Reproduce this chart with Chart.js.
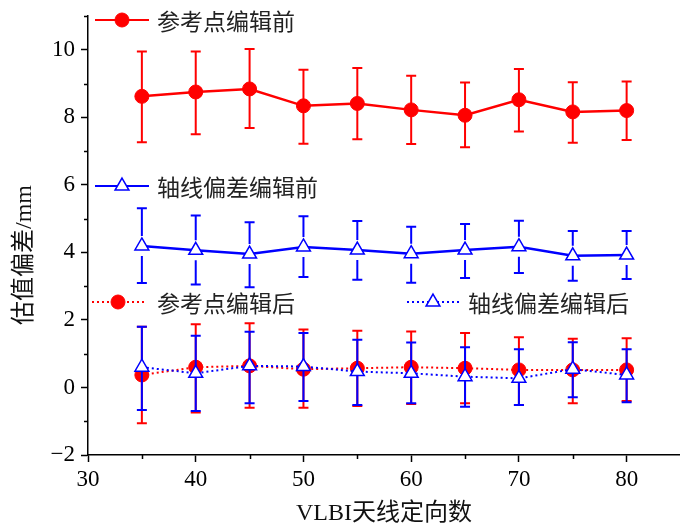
<!DOCTYPE html>
<html>
<head>
<meta charset="utf-8">
<script src="https://cdn.jsdelivr.net/npm/chart.js@4/dist/chart.umd.min.js"></script>
<style>
html,body{margin:0;padding:0;background:#fff;overflow:hidden;}
#wrap{width:680px;height:526px;position:relative;overflow:hidden;}
</style>
</head>
<body>
<div id="wrap"><canvas id="c" width="690" height="526"></canvas></div>
<script>
// ---- data ----
const xValues = [35, 40, 45, 50, 55, 60, 65, 70, 75, 80];

const refBefore     = [8.62, 8.75, 8.84, 8.34, 8.41, 8.22, 8.06, 8.52, 8.16, 8.20];
const refBeforeHigh = [9.95, 9.95, 10.02, 9.41, 9.46, 9.23, 9.03, 9.43, 9.04, 9.06];
const refBeforeLow  = [7.26, 7.50, 7.68, 7.22, 7.35, 7.21, 7.11, 7.58, 7.25, 7.33];

const axisBefore     = [4.19, 4.06, 3.95, 4.16, 4.07, 3.96, 4.07, 4.17, 3.90, 3.92];
const axisBeforeHigh = [5.31, 5.09, 4.89, 5.07, 4.93, 4.76, 4.84, 4.94, 4.63, 4.63];
const axisBeforeLow  = [3.09, 3.05, 2.97, 3.27, 3.19, 3.10, 3.24, 3.39, 3.16, 3.21];

const refAfter     = [0.37, 0.60, 0.64, 0.54, 0.57, 0.60, 0.57, 0.52, 0.52, 0.52];
const refAfterHigh = [1.80, 1.87, 1.90, 1.72, 1.68, 1.66, 1.61, 1.49, 1.44, 1.46];
const refAfterLow  = [-1.06, -0.74, -0.60, -0.60, -0.55, -0.49, -0.47, -0.52, -0.47, -0.40];

const axisAfter     = [0.60, 0.42, 0.64, 0.62, 0.47, 0.42, 0.32, 0.27, 0.54, 0.37];
const axisAfterHigh = [1.80, 1.53, 1.65, 1.61, 1.41, 1.33, 1.19, 1.13, 1.34, 1.13];
const axisAfterLow  = [-0.67, -0.70, -0.47, -0.40, -0.52, -0.47, -0.57, -0.52, -0.29, -0.44];

const seriesNames = ['参考点编辑前', '轴线偏差编辑前', '参考点编辑后', '轴线偏差编辑后'];
const xTickLabels = [30, 40, 50, 60, 70, 80];
const yTickLabels = [-2, 0, 2, 4, 6, 8, 10];
const xTitle = 'VLBI天线定向数';
const yTitle = '估值偏差/mm';

const RED = '#ff0000';
const BLUE = '#0000ff';

function pts(vals) { return xValues.map((x, i) => ({ x: x, y: vals[i] })); }

const datasets = [
  { label: seriesNames[0], data: pts(refBefore), hi: refBeforeHigh, lo: refBeforeLow,
    borderColor: RED, backgroundColor: RED, borderWidth: 2.5, pointStyle: 'circle', pointRadius: 7,
    pointBackgroundColor: RED, pointBorderColor: RED, pointBorderWidth: 1, order: 3, errColor: RED, gap: 0 },
  { label: seriesNames[1], data: pts(axisBefore), hi: axisBeforeHigh, lo: axisBeforeLow,
    borderColor: BLUE, backgroundColor: '#fff', borderWidth: 2.5, pointStyle: 'triangle', pointRadius: 8,
    pointBackgroundColor: '#fff', pointBorderColor: BLUE, pointBorderWidth: 1.5, order: 2, errColor: BLUE, gap: 10 },
  { label: seriesNames[2], data: pts(refAfter), hi: refAfterHigh, lo: refAfterLow,
    borderColor: RED, backgroundColor: RED, borderWidth: 2, borderDash: [2, 3], pointStyle: 'circle', pointRadius: 7,
    pointBackgroundColor: RED, pointBorderColor: RED, pointBorderWidth: 1, order: 1, errColor: RED, gap: 0 },
  { label: seriesNames[3], data: pts(axisAfter), hi: axisAfterHigh, lo: axisAfterLow,
    borderColor: BLUE, backgroundColor: '#fff', borderWidth: 2, borderDash: [2, 3], pointStyle: 'triangle', pointRadius: 8,
    pointBackgroundColor: '#fff', pointBorderColor: BLUE, pointBorderWidth: 1.5, order: 0, errColor: BLUE, gap: 0 }
];

const errorBars = {
  id: 'errorBars',
  beforeDatasetDraw(chart, args) {
    const ds = chart.data.datasets[args.index];
    const ys = chart.scales.y, xs = chart.scales.x;
    const ctx = chart.ctx;
    ctx.save();
    ctx.strokeStyle = ds.errColor;
    ctx.lineWidth = 2;
    ctx.setLineDash([]);
    ds.data.forEach((p, i) => {
      const px = xs.getPixelForValue(p.x);
      const pc = ys.getPixelForValue(p.y);
      const ph = ys.getPixelForValue(ds.hi[i]);
      const pl = ys.getPixelForValue(ds.lo[i]);
      ctx.beginPath();
      if (ds.gap > 0) {
        ctx.moveTo(px, ph); ctx.lineTo(px, pc - ds.gap);
        ctx.moveTo(px, pc + ds.gap); ctx.lineTo(px, pl);
      } else {
        ctx.moveTo(px, ph); ctx.lineTo(px, pl);
      }
      ctx.moveTo(px - 5, ph); ctx.lineTo(px + 5, ph);
      ctx.moveTo(px - 5, pl); ctx.lineTo(px + 5, pl);
      ctx.stroke();
    });
    ctx.restore();
  }
};

function drawMarker(ctx, style, x, y, r, fill, stroke, lw) {
  ctx.beginPath();
  if (style === 'circle') {
    ctx.arc(x, y, r, 0, Math.PI * 2);
  } else {
    let rad = 0;
    const T = Math.PI * 2 / 3;
    ctx.moveTo(x + Math.sin(rad) * r, y - Math.cos(rad) * r);
    rad += T; ctx.lineTo(x + Math.sin(rad) * r, y - Math.cos(rad) * r);
    rad += T; ctx.lineTo(x + Math.sin(rad) * r, y - Math.cos(rad) * r);
    ctx.closePath();
  }
  ctx.fillStyle = fill; ctx.fill();
  ctx.lineWidth = lw; ctx.strokeStyle = stroke; ctx.setLineDash([]); ctx.stroke();
}

const decor = {
  id: 'decor',
  afterDraw(chart) {
    const ctx = chart.ctx;
    const xs = chart.scales.x, ys = chart.scales.y;
    ctx.save();
    // minor ticks
    ctx.strokeStyle = '#000'; ctx.lineWidth = 1.5; ctx.setLineDash([]);
    ctx.beginPath();
    [-1, 1, 3, 5, 7, 9, 11].forEach(v => {
      const py = Math.round(ys.getPixelForValue(v)) + 0.5;
      ctx.moveTo(xs.left, py); ctx.lineTo(xs.left - 4, py);
    });
    [35, 45, 55, 65, 75, 85].forEach(v => {
      const px = Math.round(xs.getPixelForValue(v)) + 0.5;
      ctx.moveTo(px, ys.bottom); ctx.lineTo(px, ys.bottom + 4);
    });
    ctx.stroke();

    // legends
    const legends = [
      { ds: 0, x1: 95, x2: 149, mx: 122, y: 20, tx: 157 },
      { ds: 1, x1: 95, x2: 149, mx: 122, y: 186, tx: 157 },
      { ds: 2, x1: 92, x2: 146, mx: 118, y: 302, tx: 157 },
      { ds: 3, x1: 407, x2: 460, mx: 433, y: 302, tx: 468 }
    ];
    legends.forEach(l => {
      const ds = chart.data.datasets[l.ds];
      ctx.strokeStyle = ds.borderColor;
      ctx.lineWidth = 2;
      ctx.setLineDash(ds.borderDash || []);
      ctx.beginPath(); ctx.moveTo(l.x1, l.y); ctx.lineTo(l.x2, l.y); ctx.stroke();
      drawMarker(ctx, ds.pointStyle, l.mx, l.y, ds.pointRadius, ds.pointBackgroundColor, ds.pointBorderColor, ds.pointBorderWidth);
      ctx.fillStyle = '#222';
      ctx.font = '23px "Noto Sans CJK SC"';
      ctx.textAlign = 'left'; ctx.textBaseline = 'middle';
      ctx.fillText(ds.label, l.tx, l.y + 1);
    });

    // axis titles
    ctx.fillStyle = '#111';
    ctx.font = '24px "Liberation Serif", "Noto Sans CJK SC"';
    ctx.textAlign = 'center'; ctx.textBaseline = 'middle';
    ctx.fillText(xTitle, 384, 514);
    ctx.save();
    ctx.translate(25, 255);
    ctx.rotate(-Math.PI / 2);
    ctx.font = '24px "Liberation Serif", "Noto Sans CJK SC"';
    ctx.fillText(yTitle, 0, 0);
    ctx.restore();
    ctx.restore();
  }
};

new Chart(document.getElementById('c'), {
  type: 'line',
  data: { datasets: datasets },
  plugins: [errorBars, decor],
  options: {
    responsive: false,
    animation: false,
    devicePixelRatio: 1,
    layout: { padding: { top: 16, right: 0, left: 0, bottom: 0 } },
    plugins: { legend: { display: false }, tooltip: { enabled: false } },
    scales: {
      x: {
        type: 'linear', min: 30, max: 85,
        afterBuildTicks(scale) { scale.ticks = xTickLabels.map(v => ({ value: v })); },
        afterFit(scale) { scale.height = 71; scale.paddingRight = 0; scale.paddingLeft = 0; },
        ticks: { color: '#000', font: { family: '"Liberation Serif"', size: 23 }, padding: 4, maxRotation: 0 },
        grid: { drawOnChartArea: false, drawTicks: true, tickLength: 7, color: '#000', tickWidth: 1.5 },
        border: { display: true, color: '#000', width: 1.5 }
      },
      y: {
        type: 'linear', min: -2, max: 11,
        afterBuildTicks(scale) { scale.ticks = yTickLabels.map(v => ({ value: v })); },
        afterFit(scale) { scale.width = 88; scale.paddingTop = 0; scale.paddingBottom = 0; },
        ticks: { color: '#000', font: { family: '"Liberation Serif"', size: 23 }, padding: 6,
          callback: v => (v < 0 ? '\u2212' + Math.abs(v) : String(v)) },
        grid: { drawOnChartArea: false, drawTicks: true, tickLength: 7, color: '#000', tickWidth: 1.5 },
        border: { display: true, color: '#000', width: 1.5 }
      }
    }
  }
});
</script>
</body>
</html>
